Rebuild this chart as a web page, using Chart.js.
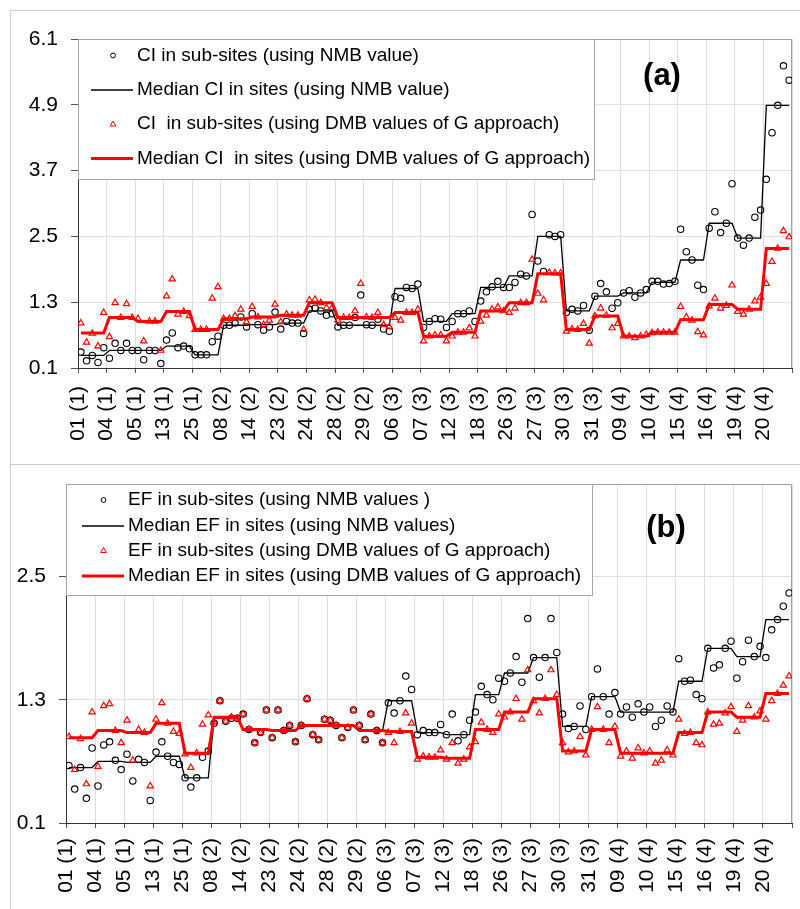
<!DOCTYPE html>
<html>
<head>
<meta charset="utf-8">
<title>CI and EF per site</title>
<script src="https://cdn.jsdelivr.net/npm/chart.js@4.4.1/dist/chart.umd.min.js"></script>
<style>
  html, body { margin: 0; padding: 0; background: #fff; }
  body { position: relative; width: 800px; height: 909px; overflow: hidden; }
  .frame { position: absolute; border: 1.5px solid #cdcdcd; box-sizing: border-box; }
  #frameA { left: 10px; top: 10px; width: 800px; height: 455px; }
  #frameB { left: 10px; top: 463.5px; width: 800px; height: 470px; }
  canvas { position: absolute; }
  #chartA { left: 11px; top: 11px; }
  #chartB { left: 11px; top: 465px; }
</style>
</head>
<body>
<div class="frame" id="frameA"></div>
<div class="frame" id="frameB"></div>
<canvas id="chartA" width="788" height="453"></canvas>
<canvas id="chartB" width="788" height="444"></canvas>
<script>
// sites (with group number), 5 sub-sites each
const sites = ['01 (1)', '04 (1)', '05 (1)', '13 (1)', '25 (1)', '08 (2)', '14 (2)', '23 (2)', '24 (2)',
    '28 (2)', '29 (2)', '06 (3)', '07 (3)', '12 (3)', '18 (3)', '26 (3)', '27 (3)', '30 (3)', '31 (3)',
    '09 (4)', '10 (4)', '15 (4)', '16 (4)', '19 (4)', '20 (4)'];
const SUBS = 5;

// ---------- (a) CI ----------
const ciNmb = [
    0.39, 0.23, 0.33, 0.20, 0.47,  0.28, 0.55, 0.42, 0.55, 0.42,  0.42, 0.25, 0.42, 0.42, 0.18,
    0.61, 0.74, 0.47, 0.50, 0.45,  0.34, 0.34, 0.34, 0.58, 0.68,  0.88, 0.88, 0.92, 1.03, 0.85,
    1.09, 0.89, 0.79, 0.85, 1.12,  0.81, 0.95, 0.92, 0.92, 0.73,  1.17, 1.19, 1.14, 1.06, 1.09,
    0.85, 0.88, 0.88, 1.02, 1.43,  0.89, 0.88, 0.99, 0.81, 0.77,  1.40, 1.37, 1.57, 1.55, 1.63,
    0.84, 0.95, 1.00, 0.99, 0.84,  0.95, 1.09, 1.09, 1.14, 0.95,  1.32, 1.49, 1.58, 1.68, 1.57,
    1.57, 1.66, 1.81, 1.78, 2.90,  2.05, 1.86, 2.53, 2.50, 2.53,  1.11, 1.17, 1.14, 1.24, 0.79,
    1.41, 1.64, 1.49, 1.19, 1.29,  1.47, 1.51, 1.39, 1.47, 1.53,  1.68, 1.68, 1.63, 1.64, 1.68,
    2.63, 2.22, 2.07, 1.61, 1.53,  2.65, 2.95, 2.57, 2.74, 3.46,  2.47, 2.34, 2.47, 2.85, 2.98,
    3.54, 4.39, 4.89, 5.61, 5.35
];
const ciNmbMed = [0.33, 0.42, 0.42, 0.50, 0.34, 0.88, 0.89, 0.92, 1.14, 0.88, 0.88, 1.55, 0.95,
    1.09, 1.57, 1.78, 2.50, 1.14, 1.41, 1.47, 1.66, 2.07, 2.74, 2.47, 4.89];

const ciDmb = [
    0.92, 0.57, 0.73, 0.50, 1.11,  0.67, 1.29, 1.02, 1.27, 1.02,  1.00, 0.59, 0.95, 0.95, 0.42,
    1.41, 1.72, 1.08, 1.13, 1.05,  0.80, 0.80, 0.80, 1.37, 1.58,  1.00, 1.00, 1.05, 1.17, 0.94,
    1.22, 1.03, 0.89, 0.97, 1.26,  0.94, 1.08, 1.06, 1.06, 0.80,  1.34, 1.35, 1.29, 1.20, 1.20,
    0.97, 1.02, 1.02, 1.14, 1.64,  1.03, 1.02, 1.11, 0.89, 0.85,  1.02, 0.97, 1.11, 1.11, 1.17,
    0.59, 0.68, 0.70, 0.70, 0.59,  0.68, 0.75, 0.75, 0.83, 0.68,  0.95, 1.06, 1.17, 1.21, 1.14,
    1.11, 1.19, 1.29, 1.29, 2.08,  1.46, 1.34, 1.84, 1.83, 1.83,  0.77, 0.81, 0.80, 0.91, 0.55,
    1.05, 1.19, 1.06, 0.83, 0.91,  0.68, 0.68, 0.65, 0.68, 0.71,  0.74, 0.75, 0.75, 0.75, 0.75,
    1.22, 1.03, 0.97, 0.76, 0.70,  1.23, 1.37, 1.19, 1.24, 1.61,  1.13, 1.08, 1.17, 1.32, 1.39,
    1.64, 2.04, 2.28, 2.60, 2.49
];
const ciDmbMed = [0.74, 1.02, 0.95, 1.13, 0.80, 1.00, 1.03, 1.06, 1.29, 1.02, 1.02, 1.11, 0.68,
    0.75, 1.14, 1.29, 1.82, 0.80, 1.05, 0.68, 0.75, 0.98, 1.26, 1.17, 2.28];

const ciTicks = [0.1, 1.3, 2.5, 3.7, 4.9, 6.1];

// ---------- (b) EF ----------
const efNmb = [
    0.66, 0.43, 0.64, 0.34, 0.83,  0.46, 0.86, 0.89, 0.71, 0.62,  0.77, 0.51, 0.72, 0.69, 0.32,
    0.79, 0.89, 0.75, 0.69, 0.67,  0.54, 0.45, 0.54, 0.74, 0.80,  1.07, 1.29, 1.09, 1.12, 1.12,
    1.16, 1.01, 0.88, 0.98, 1.20,  0.93, 1.20, 1.00, 1.05, 0.89,  1.05, 1.31, 0.96, 0.91, 1.11,
    1.10, 1.05, 0.93, 1.03, 1.20,  1.05, 0.91, 1.16, 1.00, 0.88,  1.27, 1.17, 1.29, 1.53, 1.40,
    0.96, 1.00, 0.98, 0.98, 1.06,  0.96, 1.16, 0.90, 0.96, 1.10,  1.18, 1.43, 1.35, 1.30, 1.51,
    1.48, 1.56, 1.72, 1.47, 2.09,  1.71, 1.52, 1.71, 2.09, 1.76,  1.16, 1.02, 1.04, 1.24, 1.01,
    1.33, 1.60, 1.33, 1.16, 1.37,  1.16, 1.23, 1.13, 1.26, 1.18,  1.23, 1.04, 1.10, 1.24, 1.18,
    1.70, 1.48, 1.49, 1.35, 1.31,  1.80, 1.61, 1.64, 1.80, 1.87,  1.51, 1.67, 1.88, 1.72, 1.82,
    1.71, 1.98, 2.08, 2.21, 2.34
];
const efNmbMed = [0.64, 0.70, 0.69, 0.75, 0.54, 1.12, 1.01, 1.00, 1.05, 1.05, 1.00, 1.29, 0.98,
    0.96, 1.35, 1.56, 1.71, 1.04, 1.33, 1.18, 1.18, 1.48, 1.80, 1.72, 2.08];

const efDmb = [
    0.94, 0.62, 0.92, 0.48, 1.18,  0.65, 1.24, 1.26, 1.00, 0.88,  1.10, 0.71, 1.01, 0.98, 0.46,
    1.11, 1.27, 1.07, 0.99, 0.97,  0.77, 0.64, 0.78, 1.06, 1.15,  1.08, 1.29, 1.09, 1.13, 1.12,
    1.16, 1.01, 0.88, 0.98, 1.20,  0.93, 1.20, 1.00, 1.05, 0.89,  1.05, 1.31, 0.96, 0.91, 1.11,
    1.10, 1.05, 0.93, 1.03, 1.20,  1.05, 0.91, 1.16, 1.00, 0.88,  0.98, 0.88, 0.99, 1.17, 1.07,
    0.72, 0.75, 0.74, 0.74, 0.81,  0.72, 0.88, 0.68, 0.72, 0.84,  0.89, 1.08, 1.01, 0.98, 1.16,
    1.13, 1.18, 1.31, 1.11, 1.59,  1.29, 1.17, 1.31, 1.59, 1.35,  0.88, 0.79, 0.80, 0.94, 0.76,
    1.01, 1.23, 1.01, 0.88, 1.04,  0.75, 0.80, 0.73, 0.83, 0.78,  0.80, 0.68, 0.71, 0.81, 0.76,
    1.11, 0.97, 0.98, 0.88, 0.86,  1.18, 1.06, 1.07, 1.17, 1.23,  0.99, 1.10, 1.24, 1.13, 1.19,
    1.11, 1.29, 1.36, 1.44, 1.53
];
const efDmbMed = [0.93, 1.00, 0.98, 1.07, 0.78, 1.13, 1.01, 1.00, 1.05, 1.05, 1.00, 0.99, 0.74,
    0.73, 1.01, 1.18, 1.31, 0.80, 1.01, 0.78, 0.78, 0.98, 1.18, 1.13, 1.36];

const efTicks = [0.1, 1.3, 2.5];

const FONT = "'Liberation Sans', Arial, sans-serif";
Chart.defaults.font.family = FONT;
Chart.defaults.color = '#000';

// sub-site i sits in the middle of its slot; the median line repeats the site value over its 5 slots
const subPoints = vals => vals.map((v, i) => ({ x: i + 0.5, y: v }));
const stepPoints = meds => meds.flatMap((m, s) =>
    Array.from({ length: SUBS }, (_, j) => ({ x: s * SUBS + j + 0.5, y: m })));

// plot frame (top/right), legend box and panel tag
const panelDecor = {
    id: 'panelDecor',
    beforeDatasetsDraw(chart) {
        const { ctx, chartArea: a } = chart;
        ctx.save();
        ctx.strokeStyle = '#a0a0a0';
        ctx.lineWidth = 1;
        ctx.beginPath();
        ctx.moveTo(a.left, a.top + 0.5);
        ctx.lineTo(a.right - 0.5, a.top + 0.5);
        ctx.lineTo(a.right - 0.5, a.bottom);
        ctx.stroke();
        ctx.restore();
    },
    afterDraw(chart, args, o) {
        const { ctx, chartArea: a } = chart;
        const bx = a.left, by = a.top;
        ctx.save();
        ctx.fillStyle = '#fff';
        ctx.fillRect(bx + 1, by + 1, o.boxW - 1, o.boxH - 1);
        ctx.strokeStyle = '#a6a6a6';
        ctx.lineWidth = 1;
        ctx.strokeRect(bx + 0.5, by + 0.5, o.boxW, o.boxH);

        ctx.font = o.fontSize + 'px ' + FONT;
        ctx.textBaseline = 'middle';
        o.items.forEach((it, k) => {
            const y = by + o.rows[k];
            if (it.kind === 'circle') {
                ctx.strokeStyle = '#000';
                ctx.lineWidth = 1;
                ctx.beginPath();
                ctx.arc(bx + o.symX, y, 2.4, 0, Math.PI * 2);
                ctx.stroke();
            } else if (it.kind === 'triangle') {
                ctx.strokeStyle = '#ff0000';
                ctx.lineWidth = 1;
                ctx.beginPath();
                ctx.moveTo(bx + o.symX, y - 3);
                ctx.lineTo(bx + o.symX + 2.8, y + 2);
                ctx.lineTo(bx + o.symX - 2.8, y + 2);
                ctx.closePath();
                ctx.stroke();
            } else {
                ctx.strokeStyle = it.color;
                ctx.lineWidth = it.width;
                ctx.beginPath();
                ctx.moveTo(bx + o.lineX[0], y);
                ctx.lineTo(bx + o.lineX[1], y);
                ctx.stroke();
            }
            ctx.fillStyle = '#000';
            ctx.fillText(it.text, bx + o.textX, y);
        });

        ctx.font = 'bold ' + o.tagSize + 'px ' + FONT;
        ctx.textAlign = 'center';
        ctx.fillText(o.tag, a.left + o.tagX, a.top + o.tagY);
        ctx.restore();
    }
};

function makePanel(id, p) {
    const ctx = document.getElementById(id).getContext('2d');
    return new Chart(ctx, {
        type: 'scatter',
        data: {
            datasets: [
                {
                    type: 'line',
                    data: stepPoints(p.dmbMed),
                    borderColor: '#ff0000',
                    borderWidth: 3,
                    pointRadius: 0,
                    tension: 0,
                    order: 0
                },
                {
                    data: subPoints(p.dmb),
                    pointStyle: 'triangle',
                    pointRadius: 3.6,
                    borderColor: '#ff0000',
                    backgroundColor: 'rgba(0,0,0,0)',
                    borderWidth: 1.2,
                    order: 1
                },
                {
                    type: 'line',
                    data: stepPoints(p.nmbMed),
                    borderColor: '#000',
                    borderWidth: 1.3,
                    pointRadius: 0,
                    tension: 0,
                    order: 2
                },
                {
                    data: subPoints(p.nmb),
                    pointStyle: 'circle',
                    pointRadius: 3.2,
                    borderColor: '#000',
                    backgroundColor: 'rgba(0,0,0,0)',
                    borderWidth: 1.1,
                    order: 3
                }
            ]
        },
        options: {
            responsive: false,
            animation: false,
            events: [],
            layout: { padding: { top: p.padTop, right: 7, left: 0, bottom: 0 } },
            plugins: {
                legend: { display: false },
                tooltip: { enabled: false },
                panelDecor: p.decor
            },
            scales: {
                x: {
                    type: 'linear',
                    min: 0,
                    max: sites.length * SUBS,
                    afterBuildTicks: s => {
                        s.ticks = sites.map((_, i) => ({ value: i * SUBS }))
                            .concat({ value: sites.length * SUBS });
                    },
                    afterFit: s => {
                        s.height = p.xHeight;
                        s.paddingLeft = 0;
                        s.paddingRight = 0;
                    },
                    ticks: {
                        autoSkip: false,
                        minRotation: 90,
                        maxRotation: 90,
                        padding: p.xPad,
                        font: { size: 21 },
                        callback: v => sites[v / SUBS] || ''
                    },
                    grid: { color: '#dedede', lineWidth: 1, tickLength: 5, tickColor: '#555' },
                    border: { color: '#333', width: 1 }
                },
                y: {
                    min: 0.1,
                    max: p.yMax,
                    afterBuildTicks: s => { s.ticks = p.yTicks.map(v => ({ value: v })); },
                    afterFit: s => {
                        s.width = p.yWidth;
                        s.paddingTop = 0;
                        s.paddingBottom = 0;
                    },
                    ticks: {
                        padding: 13,
                        font: { size: 21 },
                        callback: v => v.toFixed(1)
                    },
                    grid: { color: '#dedede', lineWidth: 1, tickLength: 7, tickColor: '#555' },
                    border: { color: '#333', width: 1 }
                }
            }
        },
        plugins: [panelDecor]
    });
}

makePanel('chartA', {
    nmb: ciNmb, nmbMed: ciNmbMed, dmb: ciDmb, dmbMed: ciDmbMed,
    yMax: 6.1, yTicks: ciTicks,
    padTop: 28, yWidth: 67, xHeight: 96, xPad: 13,
    decor: {
        boxW: 516, boxH: 140, rows: [16.5, 51, 85, 119.5],
        symX: 35, lineX: [13, 55], textX: 59, fontSize: 19,
        tag: '(a)', tagX: 584, tagY: 37, tagSize: 31,
        items: [
            { kind: 'circle', text: 'CI in sub-sites (using NMB value)' },
            { kind: 'line', color: '#000', width: 1.3, text: 'Median CI in sites (using NMB value)' },
            { kind: 'triangle', text: 'CI  in sub-sites (using DMB values of G approach)' },
            { kind: 'line', color: '#ff0000', width: 3, text: 'Median CI  in sites (using DMB values of G approach)' }
        ]
    }
});

makePanel('chartB', {
    nmb: efNmb, nmbMed: efNmbMed, dmb: efDmb, dmbMed: efDmbMed,
    yMax: 3.4, yTicks: efTicks,
    padTop: 19, yWidth: 55, xHeight: 86, xPad: 10,
    decor: {
        boxW: 526, boxH: 111, rows: [16, 42, 66.5, 92],
        symX: 37.5, lineX: [16, 58], textX: 62, fontSize: 19,
        tag: '(b)', tagX: 600, tagY: 44, tagSize: 31,
        items: [
            { kind: 'circle', text: 'EF in sub-sites (using NMB values )' },
            { kind: 'line', color: '#000', width: 1.3, text: 'Median EF in sites (using NMB values)' },
            { kind: 'triangle', text: 'EF in sub-sites (using DMB values of G approach)' },
            { kind: 'line', color: '#ff0000', width: 3, text: 'Median EF in sites (using DMB values of G approach)' }
        ]
    }
});
</script>
</body>
</html>
